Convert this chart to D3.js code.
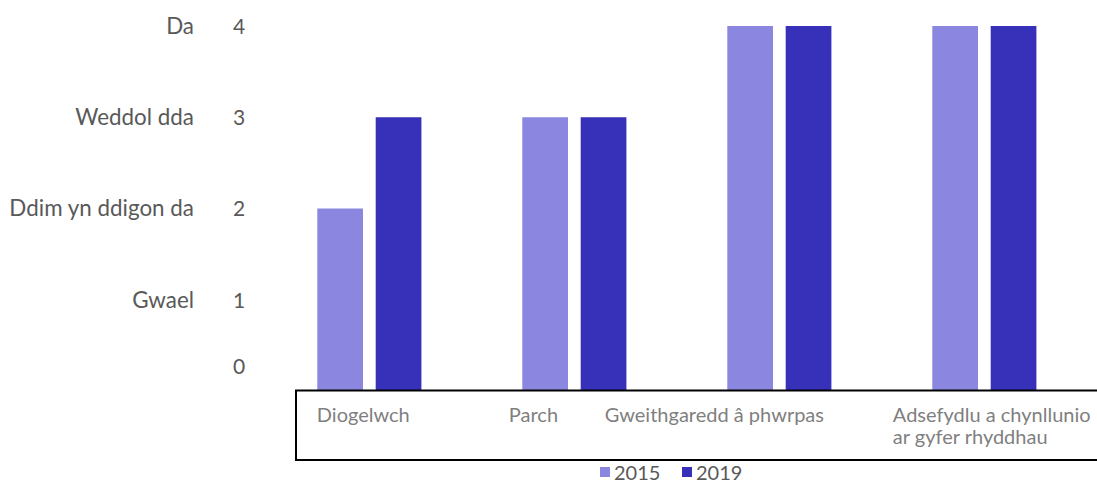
<!DOCTYPE html>
<html><head><meta charset="utf-8">
<script src="https://cdn.jsdelivr.net/npm/d3@7"></script>
<style>body{margin:0;background:#fff;}svg{display:block;font-family:Lato,"Open Sans",sans-serif;}</style>
</head><body>
<svg id="chart" width="1097" height="484"></svg>
<script>
const categories = ["Diogelwch", "Parch", "Gweithgaredd â phwrpas", "Adsefydlu a chynllunio\nar gyfer rhyddhau"];
const series = ["2015", "2019"];
const values2015 = [2, 3, 4, 4];
const values2019 = [3, 3, 4, 4];
const yTicks = [0, 1, 2, 3, 4];
const yTickNames = ["", "Gwael", "Ddim yn ddigon da", "Weddol dda", "Da"];
const colors = ["#8B87E1", "#3730B8"];

const svg = d3.select("#chart");
const y = d3.scaleLinear().domain([0, 4]).range([391, 26]);
const x0 = d3.scaleBand().domain(categories).range([266.85, 1086.85]).padding(0);
const bw = x0.bandwidth();
const x1 = d3.scaleBand().domain(series).range([bw/2 - 52.05, bw/2 + 52.05]).paddingInner(0.2175).paddingOuter(0);

const data = categories.map((c, i) => ({cat: c, vals: [values2015[i], values2019[i]]}));

const g = svg.append("g");
g.selectAll("g.cat").data(data).join("g")
  .attr("transform", d => `translate(${x0(d.cat)},0)`)
  .selectAll("rect").data(d => d.vals.map((v, j) => ({s: series[j], v, j}))).join("rect")
  .attr("x", d => x1(d.s))
  .attr("width", x1.bandwidth())
  .attr("y", d => y(d.v))
  .attr("height", d => y(0) - y(d.v))
  .attr("fill", d => colors[d.j]);

// y axis numbers
const yAxis = d3.axisLeft(y).tickValues(yTicks).tickSize(0).tickFormat(d3.format("d"));
const ya = svg.append("g").attr("transform", "translate(246,0)").call(yAxis);
ya.select(".domain").remove();
ya.selectAll("text").attr("font-size", 21).attr("fill", "#595959").attr("font-family", "Lato")
  .attr("text-anchor", "middle").attr("x", -7)
  .attr("dy", d => d === 0 ? "-0.82em" : "0.35em");

// y category names
svg.append("g").selectAll("text").data(yTicks.filter(t => yTickNames[t])).join("text")
  .attr("x", 194).attr("y", d => y(d)).attr("dy", "0.35em")
  .attr("text-anchor", "end").attr("font-size", 22.4).attr("fill", "#595959")
  .text(d => yTickNames[d]);

// category box
svg.append("rect").attr("x", 296).attr("y", y(0) - 0.5).attr("width", 820).attr("height", 69.5)
  .attr("fill", "none").attr("stroke", "#000").attr("stroke-width", 2);

// category labels
const labelDx = [50, 37, -72, 11];
const lab = svg.append("g").selectAll("text").data(categories).join("text")
  .attr("x", (d, i) => x0(d) + labelDx[i]).attr("y", 421.5)
  .attr("font-size", 20).attr("fill", "#7F7F7F");
lab.each(function(d, i) {
  const t = d3.select(this);
  d.split("\n").forEach((line, k) => {
    t.append("tspan").attr("x", x0(d) + labelDx[i]).attr("dy", k === 0 ? 0 : 22).text(line);
  });
});

// legend
const leg = svg.append("g").selectAll("g").data(series).join("g")
  .attr("transform", (d, i) => `translate(${600 + i * 82},467)`);
leg.append("rect").attr("width", 10).attr("height", 10).attr("fill", (d, i) => colors[i]);
leg.append("text").attr("x", 14).attr("y", 12.5).attr("font-size", 20).attr("fill", "#595959").text(d => d);
</script>
</body></html>
